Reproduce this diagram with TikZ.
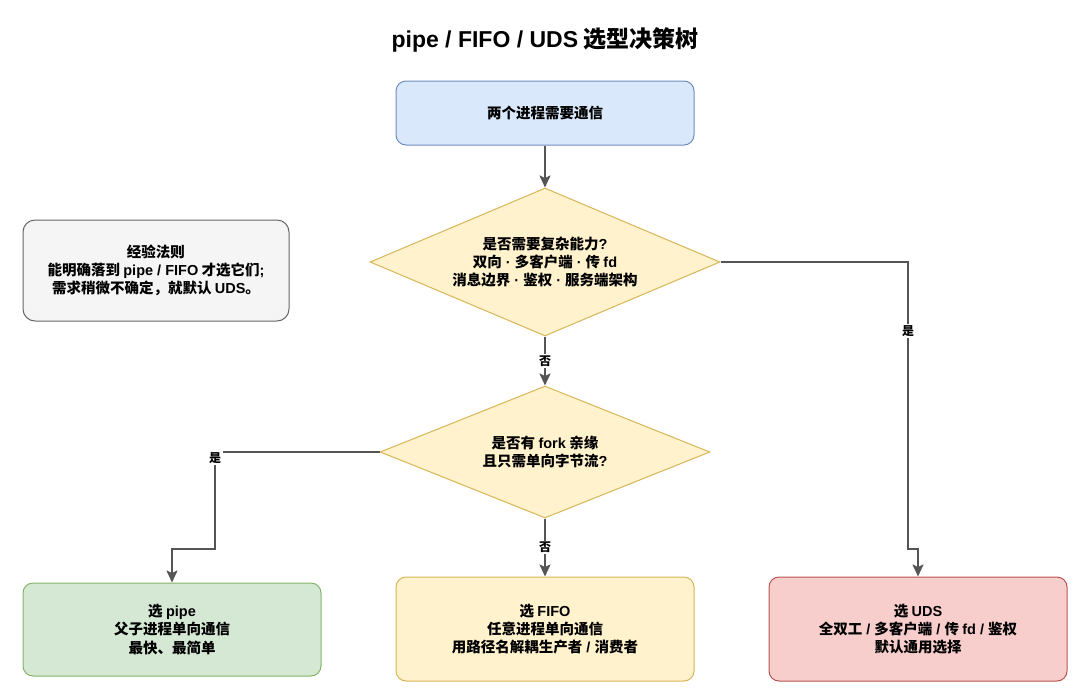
\documentclass[tikz,border=0pt]{standalone}
\usepackage{fontspec}
\setmainfont{Noto Sans CJK SC}
\newfontfamily\latinfont{Liberation Sans}
\newcommand{\lat}[1]{{\latinfont #1}}
\usetikzlibrary{shapes.geometric,arrows.meta}
\definecolor{skyfill}{HTML}{DAE8FC}
\definecolor{skyline}{HTML}{6C8EBF}
\definecolor{fogfill}{HTML}{F5F5F5}
\definecolor{fogline}{HTML}{666666}
\definecolor{cream}{HTML}{FFF2CC}
\definecolor{sand}{HTML}{D6B656}
\definecolor{sage}{HTML}{D5E8D4}
\definecolor{sageline}{HTML}{82B366}
\definecolor{rose}{HTML}{F8CECC}
\definecolor{roseline}{HTML}{B85450}
\definecolor{wire}{HTML}{555555}

\begin{document}
\begin{tikzpicture}[x=1pt,y=-1pt,
  box/.style={rounded corners=10pt, line width=1pt, minimum width=298pt, inner sep=0pt, align=center, font=\fontsize{14.5}{18.3}\selectfont\bfseries},
  ask/.style={diamond, aspect=2.4, draw=sand, fill=cream, line width=1pt, inner sep=0pt, align=center, font=\fontsize{14.5}{18.3}\selectfont\bfseries},
  flow/.style={draw=wire, line width=2pt, -{Stealth[length=12pt,width=11pt,inset=2.5pt]}},
  lbl/.style={fill=white, inner sep=1.5pt, font=\fontsize{12}{14}\selectfont\bfseries}]
\useasboundingbox (0,0) rectangle (1080,694);
\node[font=\fontsize{23}{27}\selectfont\bfseries] (title) at (545,40) {\lat{pipe / FIFO / UDS} 选型决策树};
\node[box, draw=skyline, fill=skyfill, minimum height=64pt] (start) at (545,113) {两个进程需要通信};
\node[box, draw=fogline, fill=fogfill, minimum width=266pt, minimum height=101pt, rounded corners=12pt] (rule) at (156,270.5) {经验法则\\能明确落到 \lat{pipe / FIFO} 才选它们\lat{;}\\需求稍微不确定，就默认 \lat{UDS}。};
\node[ask, minimum width=350pt, minimum height=148pt] (needs) at (545,262) {是否需要复杂能力\lat{?}\\双向\lat{ · }多客户端\lat{ · }传 \lat{fd}\\消息边界\lat{ · }鉴权\lat{ · }服务端架构};
\node[ask, minimum width=330pt, minimum height=132pt] (forked) at (545,452) {是否有 \lat{fork} 亲缘\\且只需单向字节流\lat{?}};
\node[box, draw=sageline, fill=sage, minimum height=93pt] (pipe) at (172,629.5) {选 \lat{pipe}\\父子进程单向通信\\最快、最简单};
\node[box, draw=sand, fill=cream, minimum height=104pt] (fifo) at (545,629) {选 \lat{FIFO}\\任意进程单向通信\\用路径名解耦生产者\lat{ / }消费者};
\node[box, draw=roseline, fill=rose, minimum height=104pt] (uds) at (918,629) {选 \lat{UDS}\\全双工\lat{ / }多客户端\lat{ / }传 \lat{fd / }鉴权\\默认通用选择};
% connectors
\coordinate (udsbend) at (908,549);
\coordinate (pipebend) at (215,549);
\draw[flow] (start) -- (needs);
\draw[flow] (needs) -- node[lbl] {否} (forked);
\draw[flow] (needs.east) -| node[lbl, pos=0.62] {是} (udsbend) -| (uds.north);
\draw[flow] (forked.west) -| node[lbl, pos=0.53] {是} (pipebend) -| (pipe.north);
\draw[flow] (forked) -- node[lbl] {否} (fifo);
\end{tikzpicture}
\end{document}
